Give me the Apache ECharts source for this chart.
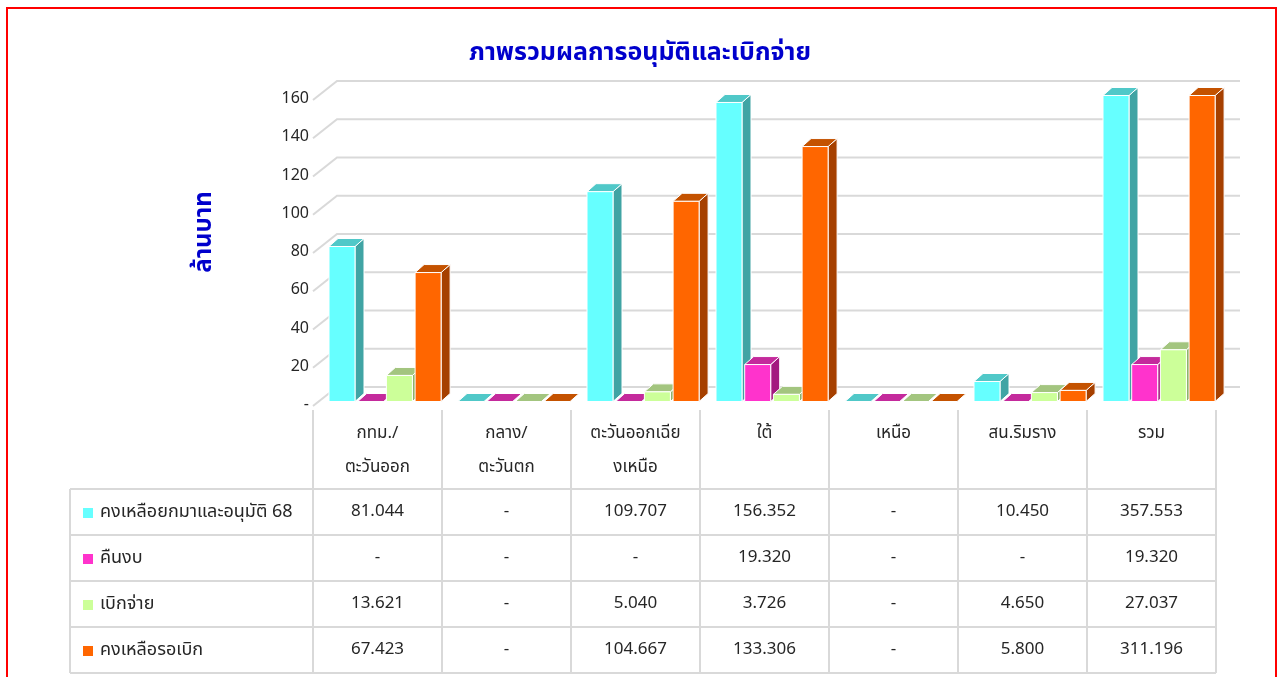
<!DOCTYPE html>
<html>
<head>
<meta charset="utf-8">
<script src="https://cdn.jsdelivr.net/npm/echarts@6/dist/echarts.min.js"></script>
<style>
  html, body { margin: 0; padding: 0; background: #fff; }
  #chart { width: 1280px; height: 677px; }
</style>
</head>
<body>
<div id="chart"></div>
<script>
// ข้อมูลจากภาพ (ล้านบาท)
const categories = ['กทม./\nตะวันออก', 'กลาง/\nตะวันตก', 'ตะวันออกเฉีย\nงเหนือ', 'ใต้', 'เหนือ', 'สน.ริมราง', 'รวม']
const seriesNames = ['คงเหลือยกมาและอนุมัติ 68', 'คืนงบ', 'เบิกจ่าย', 'คงเหลือรอเบิก']
const carriedApproved = [81.044, 0, 109.707, 156.352, 0, 10.450, 357.553]
const returned = [0, 0, 0, 19.320, 0, 0, 19.320]
const disbursed = [13.621, 0, 5.040, 3.726, 0, 4.650, 27.037]
const remaining = [67.423, 0, 104.667, 133.306, 0, 5.800, 311.196]
const yTicks = [0, 20, 40, 60, 80, 100, 120, 140, 160]

const seriesValues = [carriedApproved, returned, disbursed, remaining]
const frontColors = ['#66FFFF', '#FF33CC', '#CCFF99', '#FF6600']
const sideColors = ['#40A4A4', '#A3197F', '#8FB26B', '#A64000']
const topColors = ['#50C8C8', '#C42A9C', '#A3C57F', '#C45200']

const FONT = "'Noto Sans Thai', Tahoma, 'Noto Sans', sans-serif"
const Y_MAX = 160
const GRID = { left: 313, top: 100, width: 903, height: 306 }
const DEPTH = [9, -8]        // ความลึกของแท่ง
const WALL = [24, -19]       // ความลึกของผนังหลัง
const SHIFT = -4.5           // แท่งอยู่ลึกกว่าขอบหน้าของพื้น
const rowY = [513, 559, 605, 651]
const rowLines = [489, 535, 581, 627, 673]

// เส้นกริดแบบ 3 มิติ
function renderWall(params, api) {
  const cs = params.coordSys
  const y = api.coord([0, api.value(1)])[1]
  return {
    type: 'polyline',
    shape: { points: [[cs.x, y], [cs.x + WALL[0], y + WALL[1]], [cs.x + cs.width + WALL[0], y + WALL[1]]] },
    style: { stroke: '#D9D9D9', lineWidth: 2, fill: null }
  }
}

// แท่งกราฟแบบ 3 มิติ
function makeBar(si) {
  return function (params, api) {
    const ci = api.value(0)
    const v = Math.min(api.value(1), Y_MAX)
    const base = api.coord([ci, 0])
    const top = api.coord([ci, v])
    const band = api.size([1, 0])[0]
    const w = 26
    const x0 = base[0] - band / 2 + 16 + si * 28.7
    const yb = base[1] + SHIFT
    const yt = top[1] + SHIFT
    const dx = DEPTH[0], dy = DEPTH[1]
    const edge = { stroke: '#fff', lineWidth: 1 }
    return {
      type: 'group',
      children: [
        { type: 'polygon', shape: { points: [[x0 + w, yb], [x0 + w + dx, yb + dy], [x0 + w + dx, yt + dy], [x0 + w, yt]] },
          style: Object.assign({ fill: sideColors[si] }, edge) },
        { type: 'polygon', shape: { points: [[x0, yt], [x0 + dx, yt + dy], [x0 + w + dx, yt + dy], [x0 + w, yt]] },
          style: Object.assign({ fill: topColors[si] }, edge) },
        { type: 'rect', shape: { x: x0, y: yt, width: w, height: yb - yt },
          style: Object.assign({ fill: frontColors[si] }, edge) }
      ]
    }
  }
}

// ตัวเลขในตารางข้อมูล
function makeCell(si) {
  return function (params, api) {
    const ci = api.value(0)
    const v = api.value(1)
    const x = api.coord([ci, 0])[0]
    return {
      type: 'text',
      style: {
        text: v === 0 ? '-' : v.toFixed(3),
        x: x, y: rowY[si],
        align: 'center', verticalAlign: 'middle',
        fontSize: 17, fontFamily: FONT, fill: '#262626'
      }
    }
  }
}

const series = [{
  type: 'custom', name: 'wall', silent: true, clip: false,
  renderItem: renderWall,
  data: yTicks.map(v => [0, v])
}]
seriesValues.forEach((arr, si) => {
  series.push({
    type: 'custom', name: seriesNames[si], clip: false,
    renderItem: makeBar(si),
    data: arr.map((v, i) => [i, v])
  })
})
seriesValues.forEach((arr, si) => {
  series.push({
    type: 'custom', name: seriesNames[si] + '_table', silent: true, clip: false,
    renderItem: makeCell(si),
    data: arr.map((v, i) => [i, v])
  })
})

// ตาราง: เส้นและคำอธิบายสัญลักษณ์
const graphics = []
const band = GRID.width / categories.length
const tableRight = GRID.left + GRID.width
rowLines.forEach(y => {
  graphics.push({ type: 'line', shape: { x1: 70, y1: y, x2: tableRight, y2: y }, style: { stroke: '#D9D9D9', lineWidth: 2 } })
})
graphics.push({ type: 'line', shape: { x1: 70, y1: rowLines[0], x2: 70, y2: rowLines[4] }, style: { stroke: '#D9D9D9', lineWidth: 2 } })
for (let i = 0; i <= categories.length; i++) {
  const x = GRID.left + i * band
  graphics.push({ type: 'line', shape: { x1: x, y1: 410, x2: x, y2: rowLines[4] }, style: { stroke: '#D9D9D9', lineWidth: 2 } })
}
seriesNames.forEach((name, si) => {
  graphics.push({ type: 'rect', shape: { x: 83, y: rowY[si] - 5, width: 10, height: 10 }, style: { fill: frontColors[si] } })
  graphics.push({ type: 'text', x: 100, y: rowY[si],
    style: { text: name, verticalAlign: 'middle', fontSize: 18, fontFamily: FONT, fill: '#262626' } })
})
graphics.push({ type: 'text', x: 206, y: 232, rotation: Math.PI / 2,
  style: { text: 'ล้านบาท', align: 'center', verticalAlign: 'middle', fontSize: 24, fontWeight: 'bold', fontFamily: FONT, fill: '#0000CC' } })
graphics.push({ type: 'rect', shape: { x: 7, y: 8, width: 1269, height: 690 }, style: { fill: null, stroke: '#FF0000', lineWidth: 2 } })

const chart = echarts.init(document.getElementById('chart'))
chart.setOption({
  animation: false,
  backgroundColor: '#fff',
  title: {
    text: 'ภาพรวมผลการอนุมัติและเบิกจ่าย',
    left: 'center', top: 37,
    textStyle: { fontSize: 25, fontWeight: 'bold', color: '#0000CC', fontFamily: FONT }
  },
  grid: GRID,
  xAxis: {
    type: 'category',
    data: categories,
    axisLine: { show: false },
    axisTick: { show: false },
    axisLabel: { interval: 0, margin: 12, fontSize: 17, lineHeight: 34, color: '#262626', fontFamily: FONT }
  },
  yAxis: {
    type: 'value',
    min: 0, max: Y_MAX, interval: 20,
    axisLine: { show: false },
    axisTick: { show: false },
    splitLine: { show: false },
    axisLabel: { margin: 4, fontSize: 16, color: '#262626', fontFamily: FONT,
      padding: [5, 0, 0, 0],
      formatter: v => (v === 0 ? '-' : v) }
  },
  graphic: graphics,
  series: series
})
</script>
</body>
</html>
